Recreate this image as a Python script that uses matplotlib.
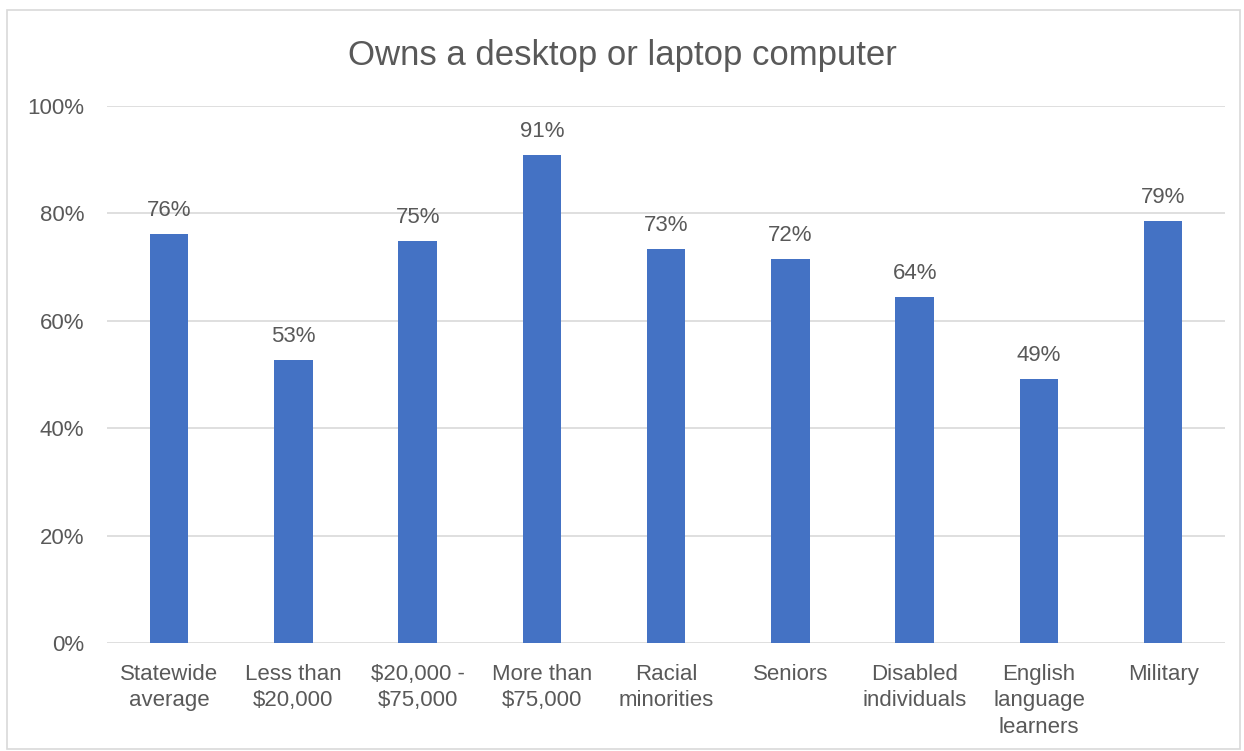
import numpy as np
import matplotlib.pyplot as plt
from matplotlib.patches import Rectangle

plt.rcParams['font.family'] = ['Liberation Sans', 'DejaVu Sans']

categories = ['Statewide\naverage', 'Less than\n$20,000', '$20,000 -\n$75,000',
              'More than\n$75,000', 'Racial\nminorities', 'Seniors',
              'Disabled\nindividuals', 'English\nlanguage\nlearners', 'Military']
shares = [0.762, 0.527, 0.749, 0.909, 0.734, 0.715, 0.644, 0.492, 0.786]
y_ticks = [0, 0.2, 0.4, 0.6, 0.8, 1.0]

bar_color = '#4472C4'
text_color = '#595959'

fig = plt.figure(figsize=(12.44, 7.51), dpi=100)
ax = fig.add_axes([0.086, 0.1438, 0.899, 0.7151])

x = np.arange(len(categories))
bars = ax.bar(x, shares, width=0.31, color=bar_color, zorder=3)

for b, v in zip(bars, shares):
    ax.text(b.get_x() + b.get_width() / 2, v + 0.024, f'{round(v * 100)}%',
            ha='center', va='bottom', fontsize=16, color=text_color)

ax.set_xlim(-0.5, len(categories) - 0.5)
ax.set_ylim(0, 1.0)
ax.set_yticks(y_ticks)
ax.set_yticklabels([f'{int(t * 100)}%' for t in y_ticks])
ax.set_xticks(x)
ax.set_xticklabels(categories, linespacing=1.35)
ax.tick_params(axis='both', length=0, labelsize=16, labelcolor=text_color)
ax.tick_params(axis='y', pad=16.5)
ax.tick_params(axis='x', pad=15)

ax.grid(axis='y', color='#D9D9D9', linewidth=1.2, zorder=0)
for s in ax.spines.values():
    s.set_visible(False)

fig.text(0.5, 0.9134, 'Owns a desktop or laptop computer', ha='center', va='baseline',
         fontsize=25, color=text_color)

# thin outline around the whole chart area
fig.patches.append(Rectangle((0.006, 0.003), 0.991, 0.984, transform=fig.transFigure,
                             fill=False, edgecolor='#D9D9D9', linewidth=1.2))

fig.savefig('out.png', dpi=100)
